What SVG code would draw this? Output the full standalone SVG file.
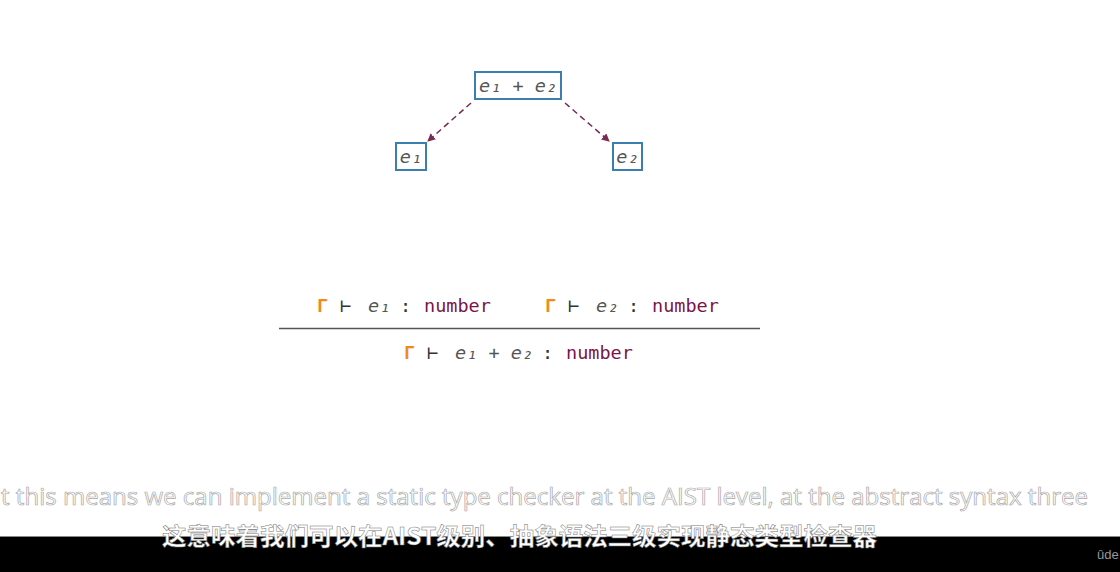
<svg xmlns="http://www.w3.org/2000/svg" width="1120" height="572" viewBox="0 0 1120 572">
<style>
.box{fill:#fff;stroke:#3a7fb0;stroke-width:2}
.m{font-family:"DejaVu Sans Mono","Liberation Mono",monospace;font-size:18.5px}
.v{fill:#555;font-style:italic}
.g{fill:#f08a1c;font-weight:bold}
.t{fill:#333}
.n{fill:#7a1648}
.edge{stroke:#7a2a56;stroke-width:1.5;stroke-dasharray:6,4;fill:none}
.sub{font-family:"Open Sans","Liberation Sans",sans-serif;fill:#fff;stroke:#aaa;stroke-width:0.7}
</style>
<defs>
<marker id="ah" markerWidth="8" markerHeight="8" refX="7" refY="4" orient="auto" markerUnits="userSpaceOnUse">
<path d="M0,0 L8,4 L0,8 Z" fill="#7a2a56"/>
</marker>
</defs>
<rect width="1120" height="572" fill="#fff"/>
<g id="connectors">
<path class="edge" d="M471,103 L428,141" marker-end="url(#ah)"/>
<path class="edge" d="M565,103 L609,141" marker-end="url(#ah)"/>
</g>
<g id="node-sum">
<rect class="box" x="475" y="72" width="86" height="27"/>
<text class="m v" x="518" y="92" text-anchor="middle">e₁ + e₂</text>
</g>
<g id="node-e1">
<rect class="box" x="396" y="143" width="30" height="27"/>
<text class="m v" x="411" y="163" text-anchor="middle">e₁</text>
</g>
<g id="node-e2">
<rect class="box" x="613" y="143" width="29" height="27"/>
<text class="m v" x="627.5" y="163" text-anchor="middle">e₂</text>
</g>
<g id="rule">
<text class="m g" x="317" y="312">Γ</text>
<text class="m t" x="340" y="312">⊢</text>
<text class="m v" x="368" y="312">e₁</text>
<text class="m t" x="400" y="312">:</text>
<text class="m n" x="424" y="312">number</text>
<text class="m g" x="545" y="312">Γ</text>
<text class="m t" x="568" y="312">⊢</text>
<text class="m v" x="596" y="312">e₂</text>
<text class="m t" x="628" y="312">:</text>
<text class="m n" x="652" y="312">number</text>
<line x1="279" y1="328.5" x2="760" y2="328.5" stroke="#555" stroke-width="1.5"/>
<text class="m g" x="404" y="359">Γ</text>
<text class="m t" x="427" y="359">⊢</text>
<text class="m v" x="455" y="359">e₁ + e₂</text>
<text class="m t" x="542" y="359">:</text>
<text class="m n" x="566" y="359">number</text>
</g>
<text class="sub" x="1" y="505" font-size="23" textLength="1087" lengthAdjust="spacingAndGlyphs">t this means we can implement a static type checker at the AIST level, at the abstract syntax three</text>
<rect x="0" y="537" width="1120" height="35" fill="#000"/>
<line x1="0" y1="536.5" x2="1120" y2="536.5" stroke="#888" stroke-width="1"/>
<text x="162" y="545" font-family="'Noto Sans CJK SC',sans-serif" font-size="24" font-weight="bold" fill="#fff" stroke="#777" stroke-width="0.5" textLength="715" lengthAdjust="spacingAndGlyphs">这意味着我们可以在AIST级别、抽象语法三级实现静态类型检查器</text>
<text x="1097" y="559" font-family="'Liberation Sans',sans-serif" font-size="13" fill="#999">ûde</text>
</svg>
